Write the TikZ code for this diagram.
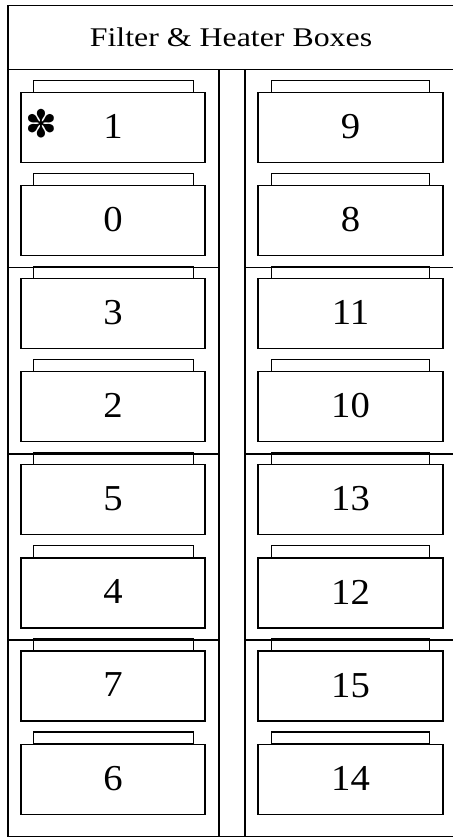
\documentclass[tikz,border=0pt]{standalone}
\usepackage{fontspec}
\setmainfont{Liberation Serif}
\newfontfamily\widefont[FakeStretch=1.18]{Liberation Serif}
\newfontfamily\digitfont[FakeStretch=1.06]{Liberation Serif}
\newfontfamily\dingfont{DejaVu Sans}
\usetikzlibrary{positioning}

\begin{document}
\begin{tikzpicture}[x=1pt,y=-1pt,
  frame/.style={line width=1.4pt},
  tabline/.style={line width=1.1pt},
  filterbox/.style={draw,line width=1.1pt,minimum width=184pt,minimum height=70pt,
    inner sep=0pt,font=\digitfont\fontsize{36.5}{36.5}\selectfont}]
\useasboundingbox (0,0) rectangle (453,838);
% outer frame and title row
\draw[frame] (453,5.5) -- (8,5.5) -- (8,836.5) -- (453,836.5);
\draw[frame] (8,69.5) -- (453,69.5);
\node[font=\widefont\fontsize{27}{27}\selectfont] (title) at (231,37.5) {Filter \& Heater Boxes};
% the two columns
\draw[frame] (219,69.5) -- (219,836.5);
\draw[frame] (245,69.5) -- (245,836.5);
\foreach \y in {267.5,454,640} {
  \draw[frame] (8,\y) -- (219,\y);
  \draw[frame] (245,\y) -- (453,\y);
}
% boxes, with their lids
\foreach \lab/\rab [count=\i from 0] in {1/9,0/8,3/11,2/10,5/13,4/12,7/15,6/14} {
  \node[filterbox] (L\lab) at (113,{127.7+93.05*\i}) {\raisebox{2pt}{\lab}};
  \node[filterbox,minimum width=185pt] (R\rab) at (350.5,{127.7+93.05*\i}) {\raisebox{2pt}{\rab}};
  \draw[tabline] ([xshift=13pt]L\lab.north west) rectangle ([xshift=-12pt,yshift=11.5pt]L\lab.north east);
  \draw[tabline] ([xshift=14pt]R\rab.north west) rectangle ([xshift=-14pt,yshift=11.5pt]R\rab.north east);
}
\node[font=\dingfont\fontsize{38}{38}\selectfont] (star) at (41,124) {✽};
\end{tikzpicture}
\end{document}
